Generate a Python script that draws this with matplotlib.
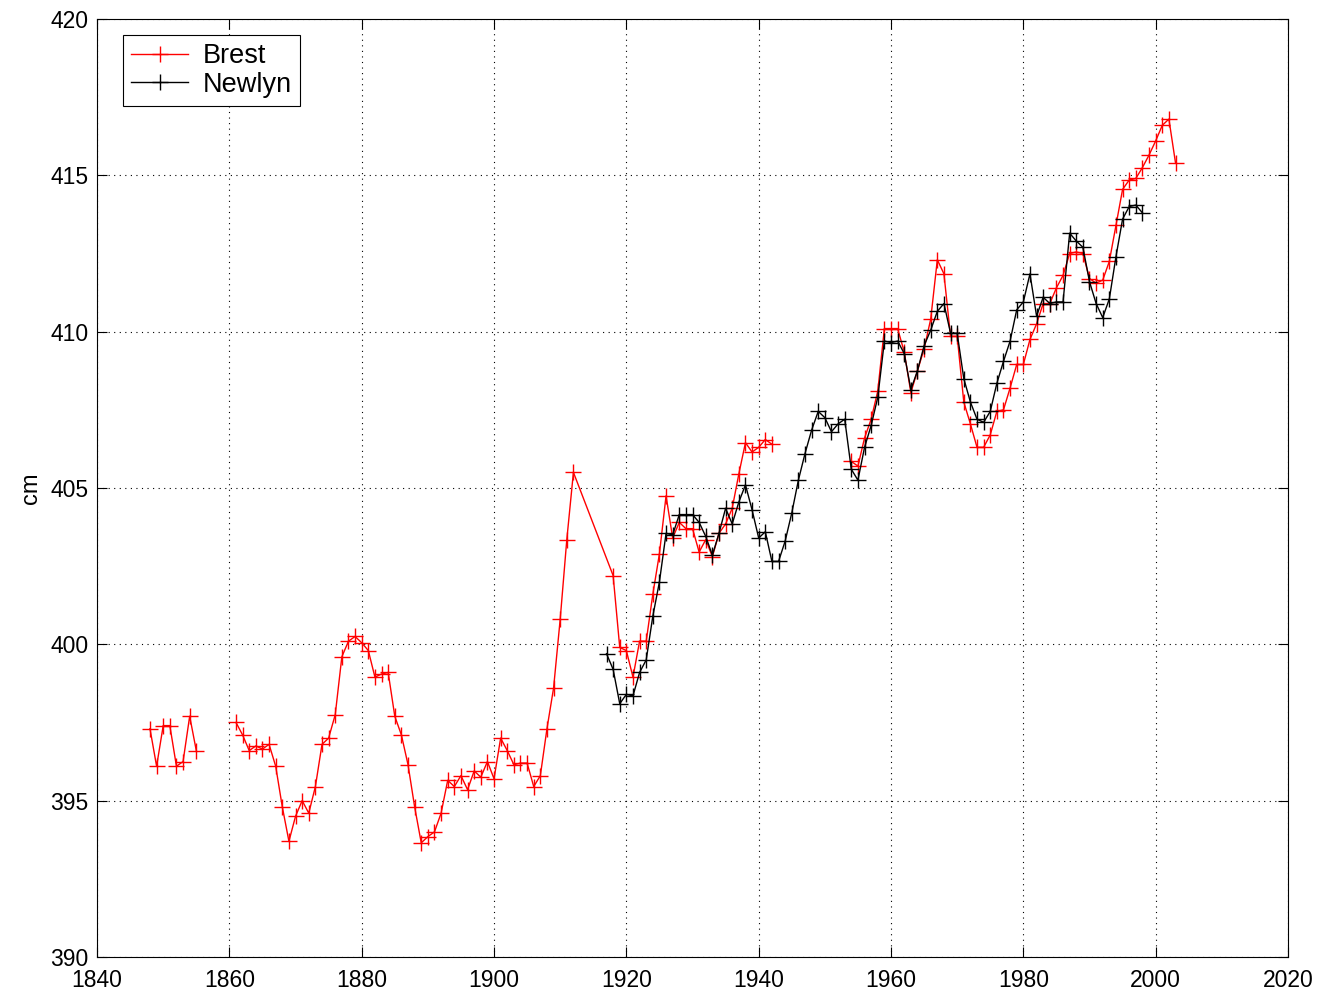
import numpy as np
import matplotlib
matplotlib.use("Agg")
import matplotlib.pyplot as plt

plt.rcParams['font.family'] = ['Liberation Sans', 'DejaVu Sans']

# Annual mean sea level (cm). NaN marks a break in the record.
brest_years = ([1848, 1849, 1850, 1851, 1852, 1853, 1854, 1855, 1856]
               + list(range(1861, 1913))
               + list(range(1918, 1944))
               + list(range(1954, 2004)))
brest_cm = [
    397.3, 396.1, 397.4, 397.4, 396.1, 396.25, 397.7, 396.6, np.nan,
    # 1861-1912
    397.5, 397.1, 396.6, 396.75, 396.65, 396.8, 396.1, 394.8, 393.7, 394.5,
    395.0, 394.6, 395.45, 396.8, 397.0, 397.75, 399.6, 400.1, 400.25, 400.05,
    399.8, 398.95, 399.05, 399.1, 397.7, 397.1, 396.15, 394.8, 393.65, 393.85,
    394.0, 394.6, 395.65, 395.45, 395.8, 395.35, 395.95, 395.75, 396.25, 395.7,
    397.0, 396.6, 396.15, 396.2, 396.2, 395.45, 395.8, 397.3, 398.6, 400.8,
    403.35, 405.5,
    # 1918-1943
    402.2, 399.9, 399.8, 398.95, 400.1, 400.1, 401.6, 402.9, 404.75, 403.4,
    403.9, 403.7, 403.7, 402.95, 403.35, 402.8, 403.55, 403.85, 404.35, 405.45,
    406.45, 406.15, 406.3, 406.55, 406.4, np.nan,
    # 1954-2003
    405.85, 405.7, 406.6, 407.2, 408.1, 410.1, 410.1, 410.1, 409.35, 408.05,
    408.75, 409.45, 410.4, 412.3, 411.85, 409.85, 409.85, 407.75, 407.05, 406.3,
    406.3, 406.7, 407.45, 407.5, 408.2, 408.95, 408.95, 409.75, 410.25, 410.9,
    410.9, 411.4, 411.8, 412.5, 412.55, 412.5, 411.7, 411.55, 411.65, 412.25,
    413.4, 414.55, 414.85, 414.9, 415.25, 415.65, 416.1, 416.6, 416.8, 415.4,
]

newlyn_years = list(range(1917, 1999))
newlyn_cm = [
    399.7, 399.2, 398.1, 398.4, 398.35, 399.1, 399.5, 400.9, 402.0, 403.55,
    403.5, 404.15, 404.15, 404.15, 403.9, 403.45, 402.85, 403.55, 404.35, 403.85,
    404.55, 405.1, 404.3, 403.4, 403.6, 402.65, 402.65, 403.3, 404.2, 405.25,
    406.1, 406.85, 407.45, 407.25, 406.8, 407.05, 407.2, 405.6, 405.25, 406.3,
    407.0, 407.9, 409.7, 409.65, 409.7, 409.3, 408.15, 408.75, 409.55, 410.05,
    410.65, 410.9, 409.95, 409.95, 408.5, 407.75, 407.2, 407.1, 407.45, 408.35,
    409.05, 409.7, 410.7, 410.95, 411.85, 410.5, 411.1, 410.9, 410.95, 410.95,
    413.15, 412.9, 412.7, 411.6, 410.9, 410.45, 411.05, 412.4, 413.6, 414.0,
    414.05, 413.8,
]

x_ticks = [1840, 1860, 1880, 1900, 1920, 1940, 1960, 1980, 2000, 2020]
y_ticks = [390, 395, 400, 405, 410, 415, 420]

fig = plt.figure(figsize=(13.24, 9.96), dpi=100)
ax = fig.add_axes([0.0733, 0.0392, 0.8995, 0.9417])

ax.plot(brest_years, brest_cm, color='#ff0000', lw=1.0, marker='+',
        markersize=11, markeredgewidth=1.0, label='Brest')
ax.plot(newlyn_years, newlyn_cm, color='black', lw=1.0, marker='+',
        markersize=11, markeredgewidth=1.0, label='Newlyn')

ax.set_xlim(1840, 2020)
ax.set_ylim(390, 420)
ax.set_xticks(x_ticks)
ax.set_yticks(y_ticks)
ax.tick_params(direction='in', length=7, width=0.8, labelsize=16.5,
               top=True, right=True)
ax.tick_params(axis='x', pad=9)
ax.tick_params(axis='y', pad=6)
ax.grid(True, color='black', linestyle=(0, (1, 4)), linewidth=0.8)
for s in ax.spines.values():
    s.set_linewidth(0.8)

ax.set_ylabel('cm', fontsize=17, labelpad=6)

leg = ax.legend(loc='upper left', bbox_to_anchor=(0.022, 0.983), fontsize=19.5,
                frameon=True, fancybox=False, edgecolor='black',
                framealpha=1, handlelength=2.1, borderpad=0.3,
                labelspacing=0.1, handletextpad=0.55, borderaxespad=0)
leg.get_frame().set_linewidth(0.8)

fig.savefig('out.png', dpi=100, facecolor='white')
